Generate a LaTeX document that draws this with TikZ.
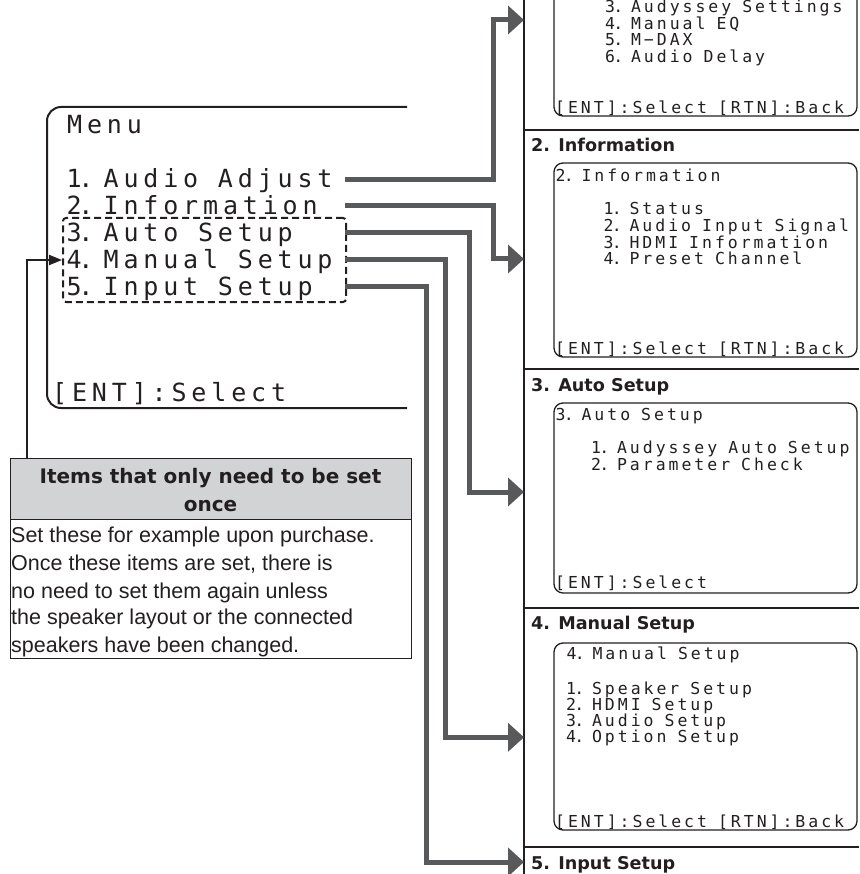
\documentclass[tikz,border=0pt]{standalone}
\usepackage{fontspec}
\setmainfont{Liberation Sans}
\newfontfamily\lcdbigfam[LetterSpace=19.4]{DejaVu Sans Mono}
\newfontfamily\lcdsmallfam[LetterSpace=18.0]{DejaVu Sans Mono}
\newfontfamily\hdfam{DejaVu Sans}
\usetikzlibrary{arrows.meta}
\definecolor{conn}{HTML}{58595B}
\definecolor{hdrgray}{HTML}{D1D3D4}
\definecolor{inkc}{HTML}{231F20}
\newcommand\lcdB{\lcdbigfam\fontsize{25}{25}\selectfont\fontdimen2\font=19.7pt\fontdimen3\font=0pt\fontdimen4\font=0pt\relax}
\newcommand\lcdS{\lcdsmallfam\fontsize{16.5}{16.5}\selectfont\fontdimen2\font=11pt\fontdimen3\font=0pt\fontdimen4\font=0pt\relax}
% narrow period of the display font
\newcommand\pdB{\kern-3.5pt.\kern-16pt}
\newcommand\pdS{\kern-1.8pt.\kern-7.5pt}
\tikzset{
  menutxt/.style={anchor=base west, inner sep=0pt, font=\lcdB, text=inkc},
  scrtxt/.style={anchor=base west, inner sep=0pt, font=\lcdS, text=inkc},
  secthead/.style={anchor=base west, inner sep=0pt, font=\hdfam\bfseries\fontsize{17.6}{20}\selectfont, text=inkc},
  callhead/.style={anchor=base, inner sep=0pt, font=\hdfam\bfseries\fontsize{20}{24}\selectfont, text=inkc},
  calltxt/.style={anchor=base west, inner sep=0pt, font=\fontsize{21.5}{26}\selectfont, text=inkc},
  scrframe/.style={draw=inkc, line width=1.3pt, rounded corners=9pt},
  menuframe/.style={draw=inkc, line width=2pt, rounded corners=14pt},
  dashbox/.style={draw=inkc, line width=2pt, dash pattern=on 7pt off 4pt, rounded corners=3pt, inner sep=0pt, anchor=north west},
  colrule/.style={draw=inkc, line width=1.2pt},
  garrow/.style={draw=conn, line width=5pt, -{Triangle[length=16pt,width=28pt]}},
  barrow/.style={draw=inkc, line width=2pt, -{Triangle[length=13pt,width=10pt]}},
  cbox/.style={draw=inkc, line width=1.4pt, inner sep=0pt, anchor=north west}
}
\begin{document}
\begin{tikzpicture}[x=1pt,y=-1pt]
\useasboundingbox (0,0) rectangle (859,874);

% right column rules
\draw[colrule] (524,0) -- (524,874);
\foreach \yy in {130,369,608,847} \draw[colrule] (524,\yy) -- (859,\yy);

% section headings
\node[secthead] (h2) at (531,151.7) {2. Information};
\node[secthead] (h3) at (531,391.7) {3. Auto Setup};
\node[secthead] (h4) at (531,629) {4. Manual Setup};
\node[secthead] (h5) at (531,869) {5. Input Setup};

% screen 1 (top, cut)
\draw[scrframe] (554,-20) -- (554,116) -- (857,116) -- (857,-20);
\node[scrtxt] (a3) at (605,13) {3\pdS{} Audyssey Settings};
\node[scrtxt] (a4) at (605,29.5) {4\pdS{} Manual EQ};
\node[scrtxt] (a5) at (605,46) {5\pdS{} M−DAX};
\node[scrtxt] (a6) at (605,62.5) {6\pdS{} Audio Delay};
\node[scrtxt] (aent) at (555,114) {[ENT]:Select [RTN]:Back};

% screen 2
\draw[scrframe] (554,163) rectangle (857,357);
\node[scrtxt] (i0) at (555.5,181.5) {2\pdS{} Information};
\node[scrtxt] (i1) at (603.5,215) {1\pdS{} Status};
\node[scrtxt] (i2) at (603.5,231.7) {2\pdS{} Audio Input Signal};
\node[scrtxt] (i3) at (603.5,248.3) {3\pdS{} HDMI Information};
\node[scrtxt] (i4) at (603.5,265) {4\pdS{} Preset Channel};
\node[scrtxt] (ient) at (555,354) {[ENT]:Select [RTN]:Back};

% screen 3
\draw[scrframe] (554,403) rectangle (857,593);
\node[scrtxt] (u0) at (555.5,420) {3\pdS{} Auto Setup};
\node[scrtxt] (u1) at (591,453.3) {1\pdS{} Audyssey Auto Setup};
\node[scrtxt] (u2) at (591,470) {2\pdS{} Parameter Check};
\node[scrtxt] (uent) at (555,588.3) {[ENT]:Select};

% screen 4
\draw[scrframe] (554,643) rectangle (857,830);
\node[scrtxt] (m0) at (566.5,659.3) {4\pdS{} Manual Setup};
\node[scrtxt] (m1) at (566,694) {1\pdS{} Speaker Setup};
\node[scrtxt] (m2) at (566,710.3) {2\pdS{} HDMI Setup};
\node[scrtxt] (m3) at (566,726.6) {3\pdS{} Audio Setup};
\node[scrtxt] (m4) at (566,742.9) {4\pdS{} Option Setup};
\node[scrtxt] (ment) at (555,827.7) {[ENT]:Select [RTN]:Back};

% main menu
\draw[menuframe] (407,107) -- (47,107) -- (47,408) -- (407,408);
\node[menutxt] (menu) at (67,134) {Menu};
\node[menutxt] (it1) at (66.5,187.3) {1\pdB{} Audio Adjust};
\node[menutxt] (it2) at (66.5,215) {2\pdB{} Information};
\node[menutxt] (it3) at (66.5,241.7) {3\pdB{} Auto Setup};
\node[menutxt] (it4) at (66.5,268.3) {4\pdB{} Manual Setup};
\node[menutxt] (it5) at (66.5,295) {5\pdB{} Input Setup};
\node[menutxt] (ment0) at (52,401.7) {[ENT]:Select};
\node[dashbox, minimum width=283pt, minimum height=84pt] (grp) at (62,217) {};

% callout
\node[cbox, fill=hdrgray, minimum width=401pt, minimum height=61pt] (chead) at (10,458) {};
\node[cbox, fill=white, minimum width=401pt, minimum height=139pt] (cbody) at (10,519) {};
\node[callhead] (ch1) at (210.5,483) {Items that only need to be set};
\node[callhead] (ch2) at (210.5,511.5) {once};
\node[calltxt] (cb1) at (11,542.7) {Set these for example upon purchase.};
\node[calltxt] (cb2) at (11,570.5) {Once these items are set, there is};
\node[calltxt] (cb3) at (11,598) {no need to set them again unless};
\node[calltxt] (cb4) at (11,624.5) {the speaker layout or the connected};
\node[calltxt] (cb5) at (11,652.3) {speakers have been changed.};

% black connector from callout to group
\coordinate (cstart) at (27,458);
\draw[barrow] (cstart) |- (grp.west);

% gray connectors
\coordinate (s1) at (345,179.3);
\coordinate (s2) at (345,206);
\coordinate (s3) at (345,232.7);
\coordinate (s4) at (345,259.3);
\coordinate (s5) at (345,286.7);
\coordinate (e1) at (524,20);
\coordinate (e2) at (524,259);
\coordinate (e3) at (524,492);
\coordinate (e4) at (524,737.3);
\coordinate (e5) at (524,862);
\draw[garrow] (s1) -- (493.3,179.3) |- (e1);
\draw[garrow] (s2) -- (493.3,206) |- (e2);
\draw[garrow] (s3) -- (469,232.7) |- (e3);
\draw[garrow] (s4) -- (445,259.3) |- (e4);
\draw[garrow] (s5) -- (426.7,286.7) |- (e5);
\end{tikzpicture}
\end{document}
